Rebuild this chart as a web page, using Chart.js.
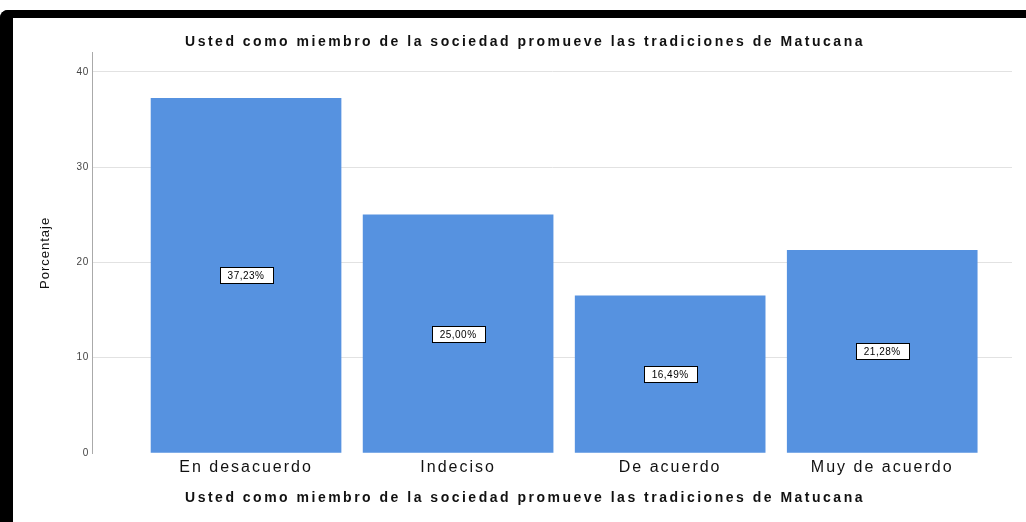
<!DOCTYPE html>
<html lang="es">
<head>
<meta charset="UTF-8">
<meta name="viewport" content="width=device-width, initial-scale=1.0">
<title>Tradiciones de Matucana</title>
<script src="https://cdn.jsdelivr.net/npm/chart.js@4.4.0/dist/chart.umd.min.js"></script>
<style>
    html, body { margin: 0; padding: 0; background: #fff; overflow: hidden; }
    .frame {
        position: absolute; left: 0; top: 10px; width: 1060px; height: 600px;
        box-sizing: border-box;
        border-top: 8px solid #000; border-left: 13px solid #000;
        border-top-left-radius: 8px;
    }
    .wrap { position: absolute; left: 0; top: 0; width: 1026px; height: 522px; }
</style>
</head>
<body>
<div class="frame"></div>
<div class="wrap"><canvas id="grafico"></canvas></div>

<script>
    // Datos
    const categorias = ['En desacuerdo', 'Indeciso', 'De acuerdo', 'Muy de acuerdo'];
    const porcentajes = [37.23, 25.00, 16.49, 21.28];
    const yTicks = [0, 10, 20, 30, 40];
    const titulo = 'Usted como miembro de la sociedad promueve las tradiciones de Matucana';

    const fuente = '"Liberation Sans", Arial, sans-serif';
    Chart.defaults.font.family = fuente;

    // espaciado de letras segun el tamaño de fuente (px)
    const espacioPorTamano = { '14px': 2.5, '16px': 2, '13px': 1, '10px': 0.5 };
    const espaciado = {
        id: 'espaciado',
        afterInit(chart) {
            const c = chart.ctx;
            const fill = c.fillText.bind(c);
            c.fillText = (txt, x, y, w) => {
                const m = c.font.match(/(\d+)px/);
                const esp = m ? (espacioPorTamano[m[0]] ?? 1) : 1;
                c.letterSpacing = esp + 'px';
                if (w === undefined) fill(txt, x, y); else fill(txt, x, y, w);
            };
        }
    };

    // etiqueta con el porcentaje en el centro de cada barra
    const etiquetas = {
        id: 'etiquetas',
        afterDatasetsDraw(chart) {
            const ctx = chart.ctx;
            const meta = chart.getDatasetMeta(0);
            ctx.save();
            ctx.font = '10px ' + fuente;
            ctx.letterSpacing = '0.5px';
            ctx.textAlign = 'center';
            ctx.textBaseline = 'middle';
            meta.data.forEach((bar, i) => {
                const txt = porcentajes[i].toFixed(2).replace('.', ',') + '%';
                const y = Math.round((bar.y + bar.base) / 2);
                const w = Math.round(ctx.measureText(txt).width) + 16;
                const h = 16;
                const x0 = Math.round(bar.x - w / 2) + 0.5;
                const y0 = Math.round(y - h / 2) + 0.5;
                ctx.fillStyle = '#fff';
                ctx.fillRect(x0, y0, w, h);
                ctx.strokeStyle = '#000';
                ctx.lineWidth = 1;
                ctx.strokeRect(x0, y0, w, h);
                ctx.fillStyle = '#000';
                ctx.fillText(txt, bar.x, y + 1);
            });
            ctx.restore();
        }
    };

    const ctx = document.getElementById('grafico').getContext('2d');
    new Chart(ctx, {
        type: 'bar',
        data: {
            datasets: [{
                data: porcentajes.map((v, i) => ({ x: i, y: v })),
                backgroundColor: '#5692e0',
                borderWidth: 0,
                barThickness: 190
            }]
        },
        plugins: [espaciado, etiquetas],
        options: {
            responsive: true,
            maintainAspectRatio: false,
            animation: false,
            layout: { padding: { top: 34, left: 38, right: 14, bottom: 15 } },
            plugins: {
                legend: { display: false },
                tooltip: { enabled: false },
                title: {
                    display: true,
                    text: titulo,
                    color: '#111',
                    font: { size: 14, weight: 'bold' },
                    padding: { top: 0, bottom: 2 }
                },
                // titulo del eje x, centrado en todo el ancho
                subtitle: {
                    display: true,
                    position: 'bottom',
                    text: titulo,
                    color: '#111',
                    font: { size: 14, weight: 'bold' },
                    padding: { top: 8, bottom: 0 }
                }
            },
            scales: {
                x: {
                    type: 'linear',
                    offset: false,
                    min: -0.723,
                    max: 3.612,
                    grid: { display: false, drawTicks: false },
                    border: { display: false },
                    afterBuildTicks: s => { s.ticks = categorias.map((c, i) => ({ value: i })); },
                    ticks: {
                        callback: v => categorias[v],
                        autoSkip: false,
                        maxRotation: 0,
                        padding: 5,
                        color: '#111',
                        font: { size: 16 }
                    }
                },
                y: {
                    min: 0,
                    max: 42,
                    afterBuildTicks: s => { s.ticks = yTicks.map(v => ({ value: v })); },
                    grid: {
                        color: c => c.tick && c.tick.value === 0 ? 'rgba(0,0,0,0)' : '#e2e2e2',
                        drawTicks: false
                    },
                    border: { color: '#aaa' },
                    ticks: { padding: 4, color: '#444', font: { size: 10 } },
                    title: {
                        display: true,
                        text: 'Porcentaje',
                        color: '#111',
                        font: { size: 13 },
                        padding: { top: 0, bottom: 20 }
                    }
                }
            }
        }
    });
</script>
</body>
</html>
